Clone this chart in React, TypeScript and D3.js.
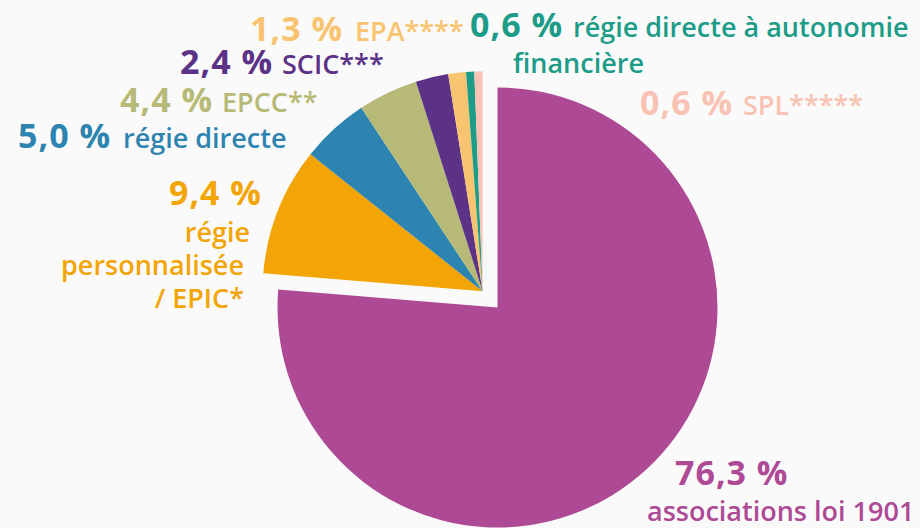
import React from 'react';
import * as d3 from 'd3';

// parts (%) in the order they sit clockwise from 12 o'clock
const shares = [76.3, 9.4, 5.0, 4.4, 2.4, 1.3, 0.6, 0.6];
const categories = [
  'associations loi 1901',
  'régie personnalisée / EPIC*',
  'régie directe',
  'EPCC**',
  'SCIC***',
  'EPA****',
  'régie directe à autonomie financière',
  'SPL*****',
];
const shareLabels = ['76,3 %', '9,4 %', '5,0 %', '4,4 %', '2,4 %', '1,3 %', '0,6 %', '0,6 %'];
const colors = ['#AE4995', '#F2A505', '#2E84B0', '#B6BA76', '#5B3286', '#F9C470', '#1D9C88', '#F9C2B3'];

const W = 920;
const H = 528;
const cx = 497.5;
const cy = 307.5;
const radius = 220;
const explode = 22;
const font = "'Open Sans', 'DejaVu Sans', sans-serif";

// label layout: percentage position, then name lines [text, x, baseline]
type Lbl = { i: number; pct: [number, number]; name: [string, number, number][] };
const labels: Lbl[] = [
  { i: 5, pct: [250, 41], name: [['EPA****', 355, 41]] },
  { i: 4, pct: [180, 74], name: [['SCIC***', 282, 74]] },
  { i: 3, pct: [120, 112], name: [['EPCC**', 222, 112]] },
  { i: 2, pct: [18, 148], name: [['régie directe', 123, 148]] },
  { i: 6, pct: [470, 37], name: [['régie directe à autonomie', 573, 37], ['financière', 513, 73]] },
  { i: 7, pct: [640, 115], name: [['SPL*****', 743, 115]] },
  { i: 0, pct: [675, 485], name: [['associations loi 1901', 647, 521]] },
];

const pctStyle = { fontSize: 34, fontWeight: 700, letterSpacing: 1 };
const nameStyle = { fontSize: 27, fontWeight: 600 };

const App = () => {
  const pie = d3.pie<number>().sort(null).value(d => d);
  const arcs = pie(shares);
  const arc = d3.arc<d3.PieArcDatum<number>>().innerRadius(0).outerRadius(radius);

  // the small parts are pulled out together, along the middle of their wedge
  const a0 = arcs[1].startAngle;
  const a1 = arcs[arcs.length - 1].endAngle;
  const mid = (a0 + a1) / 2;
  const dx = Math.sin(mid) * explode;
  const dy = -Math.cos(mid) * explode;

  return (
    <svg width={W} height={H} style={{ position: 'absolute', left: 0, top: 0 }} fontFamily={font}>
      <rect width={W} height={H} fill="#FAFAFA" />
      <g transform={`translate(${cx},${cy})`}>
        <path d={arc(arcs[0]) || ''} fill={colors[0]} />
        <g transform={`translate(${dx},${dy})`}>
          {arcs.slice(1).map((a, k) => (
            <path key={k} d={arc(a) || ''} fill={colors[k + 1]} />
          ))}
        </g>
      </g>

      {labels.map((l, k) => (
        <g key={k} fill={colors[l.i]}>
          <text x={l.pct[0]} y={l.pct[1]} style={pctStyle}>
            {shareLabels[l.i]}
          </text>
          {l.name.map((n, j) => (
            <text key={j} x={n[1]} y={n[2]} style={nameStyle}>
              {n[0]}
            </text>
          ))}
        </g>
      ))}

      {/* orange part: right-aligned block */}
      <g fill={colors[1]} textAnchor="end">
        <text x={262} y={205} style={pctStyle}>{shareLabels[1]}</text>
        <text x={250} y={242} style={nameStyle}>régie</text>
        <text x={244} y={275} style={nameStyle}>personnalisée</text>
        <text x={244} y={308} style={nameStyle}>/ EPIC*</text>
      </g>
    </svg>
  );
};

export default App;
